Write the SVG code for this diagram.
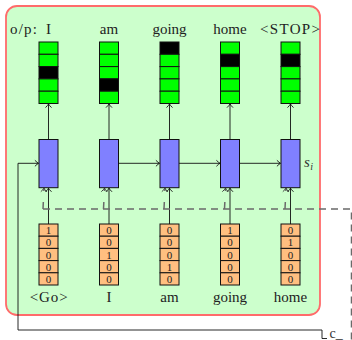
<svg xmlns="http://www.w3.org/2000/svg" width="352" height="340" viewBox="0 0 352 340">
<defs>
<style>
.lbl{font-family:"Liberation Serif","Times New Roman",serif;font-size:15px;fill:#222;text-anchor:middle}
.dig{font-family:"Liberation Serif","Times New Roman",serif;font-size:11px;fill:#222;text-anchor:middle}
.g{fill:#00ff00;stroke:#111;stroke-width:1}
.k{fill:#000;stroke:#111;stroke-width:1}
.o{fill:#ffbf80;stroke:#111;stroke-width:1}
.rnn{fill:#8080ff;stroke:#111;stroke-width:1}
.ln{fill:none;stroke:#111;stroke-width:0.9}
.dsh{fill:none;stroke:#6a6a6a;stroke-width:1.5;stroke-dasharray:7 5}
.dshv{fill:none;stroke:#6a6a6a;stroke-width:1.5;stroke-dasharray:7 11}
</style>
<marker id="ah" markerUnits="userSpaceOnUse" markerWidth="10" markerHeight="10" viewBox="-5 -5 10 10" refX="0" refY="0" orient="auto">
<path d="M-3.6,-3 Q-1.2,-0.6 0,0 Q-1.2,0.6 -3.6,3" fill="none" stroke="#111" stroke-width="0.9"/>
</marker>
<marker id="ahg" markerUnits="userSpaceOnUse" markerWidth="10" markerHeight="10" viewBox="-5 -5 10 10" refX="0" refY="0" orient="auto">
<path d="M-3.6,-3 Q-1.2,-0.6 0,0 Q-1.2,0.6 -3.6,3" fill="none" stroke="#333" stroke-width="0.9"/>
</marker>
</defs>
<rect id="frame" x="6" y="6" width="314" height="309" rx="11" fill="#ccffcc" stroke="#ff6b6b" stroke-width="1.8"/>

<g id="connectors">
<path class="ln" d="M48.5,139.5V104" marker-end="url(#ah)"/>
<path class="ln" d="M109,139.5V104" marker-end="url(#ah)"/>
<path class="ln" d="M169.5,139.5V104" marker-end="url(#ah)"/>
<path class="ln" d="M230,139.5V104" marker-end="url(#ah)"/>
<path class="ln" d="M290.5,139.5V104" marker-end="url(#ah)"/>
<path class="ln" d="M118.5,163.3H159.5" marker-end="url(#ah)"/>
<path class="ln" d="M179,163.3H220" marker-end="url(#ah)"/>
<path class="ln" d="M239.5,163.3H280.5" marker-end="url(#ah)"/>
<path class="ln" d="M327,338.5H322V330H18V163.3H38.5" marker-end="url(#ah)"/>
<path class="ln" d="M48.5,224V188.2" marker-end="url(#ah)"/>
<path class="ln" d="M109,224V188.2" marker-end="url(#ah)"/>
<path class="ln" d="M169.5,224V188.2" marker-end="url(#ah)"/>
<path class="ln" d="M230,224V188.2" marker-end="url(#ah)"/>
<path class="ln" d="M290.5,224V188.2" marker-end="url(#ah)"/>
<path class="dsh" d="M43,209H351.5V345"/>
<path class="dshv" d="M43,209L44,188.2" marker-end="url(#ahg)"/>
<path class="dshv" d="M103.5,209L104.5,188.2" marker-end="url(#ahg)"/>
<path class="dshv" d="M164,209L165,188.2" marker-end="url(#ahg)"/>
<path class="dshv" d="M224.5,209L225.5,188.2" marker-end="url(#ahg)"/>
<path class="dshv" d="M285,209L286,188.2" marker-end="url(#ahg)"/>
</g>

<text class="lbl" x="10" y="34" style="text-anchor:start" textLength="27" lengthAdjust="spacing">o/p:</text>

<g id="out1">
<text class="lbl" x="48.5" y="34">I</text>
<rect class="g" x="39" y="42" width="19" height="12.3"/>
<rect class="g" x="39" y="54.3" width="19" height="12.3"/>
<rect class="k" x="39" y="66.6" width="19" height="12.3"/>
<rect class="g" x="39" y="78.9" width="19" height="12.3"/>
<rect class="g" x="39" y="91.2" width="19" height="12.3"/>
</g>
<g id="out2">
<text class="lbl" x="109" y="34">am</text>
<rect class="g" x="99.5" y="42" width="19" height="12.3"/>
<rect class="g" x="99.5" y="54.3" width="19" height="12.3"/>
<rect class="g" x="99.5" y="66.6" width="19" height="12.3"/>
<rect class="k" x="99.5" y="78.9" width="19" height="12.3"/>
<rect class="g" x="99.5" y="91.2" width="19" height="12.3"/>
</g>
<g id="out3">
<text class="lbl" x="169.5" y="34">going</text>
<rect class="k" x="160" y="42" width="19" height="12.3"/>
<rect class="g" x="160" y="54.3" width="19" height="12.3"/>
<rect class="g" x="160" y="66.6" width="19" height="12.3"/>
<rect class="g" x="160" y="78.9" width="19" height="12.3"/>
<rect class="g" x="160" y="91.2" width="19" height="12.3"/>
</g>
<g id="out4">
<text class="lbl" x="230" y="34">home</text>
<rect class="g" x="220.5" y="42" width="19" height="12.3"/>
<rect class="k" x="220.5" y="54.3" width="19" height="12.3"/>
<rect class="g" x="220.5" y="66.6" width="19" height="12.3"/>
<rect class="g" x="220.5" y="78.9" width="19" height="12.3"/>
<rect class="g" x="220.5" y="91.2" width="19" height="12.3"/>
</g>
<g id="out5">
<text class="lbl" x="290" y="34" textLength="60" lengthAdjust="spacing">&lt;STOP&gt;</text>
<rect class="g" x="281" y="42" width="19" height="12.3"/>
<rect class="k" x="281" y="54.3" width="19" height="12.3"/>
<rect class="g" x="281" y="66.6" width="19" height="12.3"/>
<rect class="g" x="281" y="78.9" width="19" height="12.3"/>
<rect class="g" x="281" y="91.2" width="19" height="12.3"/>
</g>

<g id="rnn1"><rect class="rnn" x="39" y="139.5" width="19" height="48.2"/></g>
<g id="rnn2"><rect class="rnn" x="99.5" y="139.5" width="19" height="48.2"/></g>
<g id="rnn3"><rect class="rnn" x="160" y="139.5" width="19" height="48.2"/></g>
<g id="rnn4"><rect class="rnn" x="220.5" y="139.5" width="19" height="48.2"/></g>
<g id="rnn5"><rect class="rnn" x="281" y="139.5" width="19" height="48.2"/>
<text x="304" y="166.5" style="font-family:'Liberation Serif',serif;font-style:italic;font-size:15px;fill:#333">s</text>
<text x="310.2" y="169.5" style="font-family:'Liberation Serif',serif;font-style:italic;font-size:10px;fill:#333">i</text>
</g>

<g id="in1">
<rect class="o" x="39" y="224" width="19" height="12.2"/><text class="dig" x="48.5" y="234.2">1</text>
<rect class="o" x="39" y="236.2" width="19" height="12.2"/><text class="dig" x="48.5" y="246.4">0</text>
<rect class="o" x="39" y="248.4" width="19" height="12.2"/><text class="dig" x="48.5" y="258.6">0</text>
<rect class="o" x="39" y="260.6" width="19" height="12.2"/><text class="dig" x="48.5" y="270.8">0</text>
<rect class="o" x="39" y="272.8" width="19" height="12.2"/><text class="dig" x="48.5" y="283">0</text>
<text class="lbl" x="48.7" y="301.5" textLength="38" lengthAdjust="spacing">&lt;Go&gt;</text>
</g>
<g id="in2">
<rect class="o" x="99.5" y="224" width="19" height="12.2"/><text class="dig" x="109" y="234.2">0</text>
<rect class="o" x="99.5" y="236.2" width="19" height="12.2"/><text class="dig" x="109" y="246.4">0</text>
<rect class="o" x="99.5" y="248.4" width="19" height="12.2"/><text class="dig" x="109" y="258.6">1</text>
<rect class="o" x="99.5" y="260.6" width="19" height="12.2"/><text class="dig" x="109" y="270.8">0</text>
<rect class="o" x="99.5" y="272.8" width="19" height="12.2"/><text class="dig" x="109" y="283">0</text>
<text class="lbl" x="109" y="301.5">I</text>
</g>
<g id="in3">
<rect class="o" x="160" y="224" width="19" height="12.2"/><text class="dig" x="169.5" y="234.2">0</text>
<rect class="o" x="160" y="236.2" width="19" height="12.2"/><text class="dig" x="169.5" y="246.4">0</text>
<rect class="o" x="160" y="248.4" width="19" height="12.2"/><text class="dig" x="169.5" y="258.6">0</text>
<rect class="o" x="160" y="260.6" width="19" height="12.2"/><text class="dig" x="169.5" y="270.8">1</text>
<rect class="o" x="160" y="272.8" width="19" height="12.2"/><text class="dig" x="169.5" y="283">0</text>
<text class="lbl" x="169.5" y="301.5">am</text>
</g>
<g id="in4">
<rect class="o" x="220.5" y="224" width="19" height="12.2"/><text class="dig" x="230" y="234.2">1</text>
<rect class="o" x="220.5" y="236.2" width="19" height="12.2"/><text class="dig" x="230" y="246.4">0</text>
<rect class="o" x="220.5" y="248.4" width="19" height="12.2"/><text class="dig" x="230" y="258.6">0</text>
<rect class="o" x="220.5" y="260.6" width="19" height="12.2"/><text class="dig" x="230" y="270.8">0</text>
<rect class="o" x="220.5" y="272.8" width="19" height="12.2"/><text class="dig" x="230" y="283">0</text>
<text class="lbl" x="230" y="301.5">going</text>
</g>
<g id="in5">
<rect class="o" x="281" y="224" width="19" height="12.2"/><text class="dig" x="290.5" y="234.2">0</text>
<rect class="o" x="281" y="236.2" width="19" height="12.2"/><text class="dig" x="290.5" y="246.4">1</text>
<rect class="o" x="281" y="248.4" width="19" height="12.2"/><text class="dig" x="290.5" y="258.6">0</text>
<rect class="o" x="281" y="260.6" width="19" height="12.2"/><text class="dig" x="290.5" y="270.8">0</text>
<rect class="o" x="281" y="272.8" width="19" height="12.2"/><text class="dig" x="290.5" y="283">0</text>
<text class="lbl" x="290.5" y="301.5">home</text>
</g>

<g id="c">
<text x="329.5" y="338" style="font-family:'Liberation Serif',serif;font-size:14px;fill:#333">c_</text>
</g>
</svg>
